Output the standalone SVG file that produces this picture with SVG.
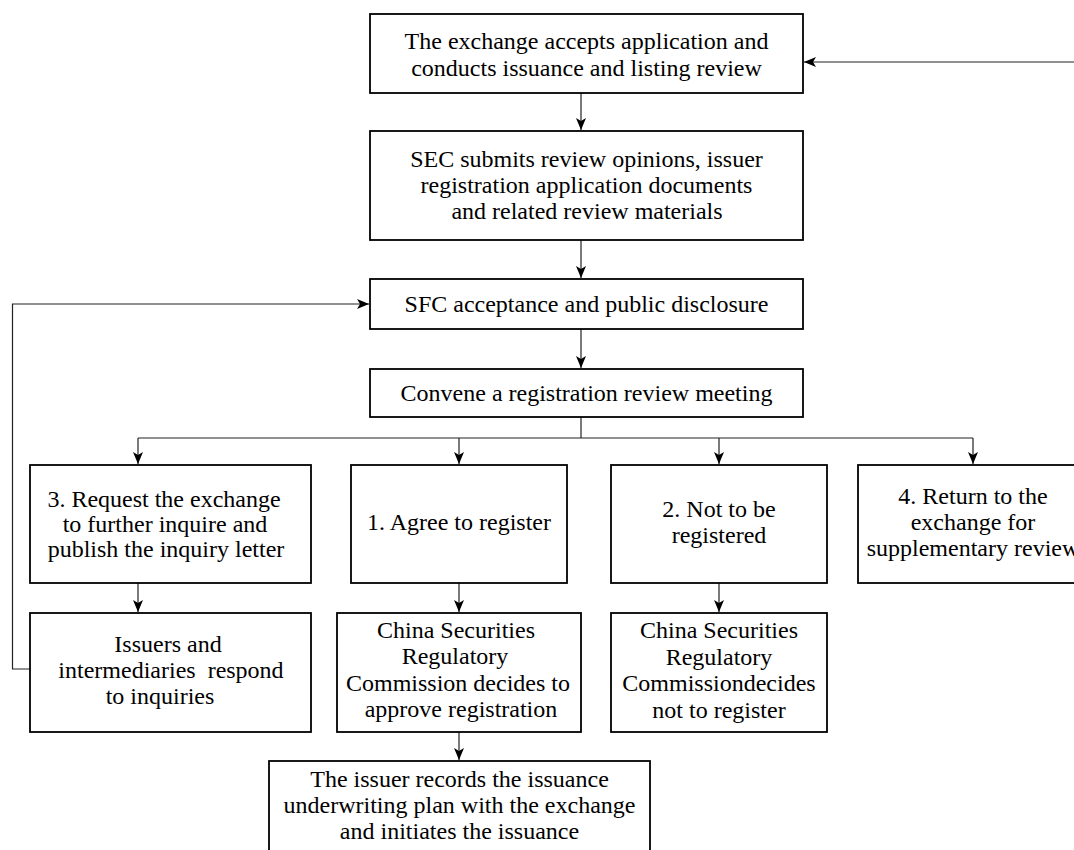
<svg xmlns="http://www.w3.org/2000/svg" width="1074" height="850" viewBox="0 0 1074 850">
<style>
.box{fill:#fff;stroke:#000;stroke-width:1.8}
.t{font-family:"Liberation Serif","Times New Roman",serif;font-size:24px;fill:#000;text-anchor:middle}
.c{fill:none;stroke:#222;stroke-width:1.2}
</style>
<defs>
<marker id="ah" markerUnits="userSpaceOnUse" viewBox="0 0 12 10" refX="12" refY="5" markerWidth="12" markerHeight="10" orient="auto">
<path d="M0,0 L12,5 L0,10 L3,5 z" fill="#000"/>
</marker>
</defs>
<rect width="1074" height="850" fill="#fff"/>
<g id="connectors">
<path class="c" d="M1074,62 L804,62" marker-end="url(#ah)"/>
<path class="c" d="M581,93 L581,130" marker-end="url(#ah)"/>
<path class="c" d="M581,240 L581,278" marker-end="url(#ah)"/>
<path class="c" d="M581,329 L581,368" marker-end="url(#ah)"/>
<path class="c" d="M581,417 L581,438"/>
<path class="c" d="M138,438 L973,438"/>
<path class="c" d="M138,438 L138,464" marker-end="url(#ah)"/>
<path class="c" d="M459,438 L459,464" marker-end="url(#ah)"/>
<path class="c" d="M719,438 L719,464" marker-end="url(#ah)"/>
<path class="c" d="M973,438 L973,464" marker-end="url(#ah)"/>
<path class="c" d="M138,583 L138,612" marker-end="url(#ah)"/>
<path class="c" d="M459,583 L459,612" marker-end="url(#ah)"/>
<path class="c" d="M719,583 L719,612" marker-end="url(#ah)"/>
<path class="c" d="M459,732 L459,760" marker-end="url(#ah)"/>
<path class="c" d="M30,669 L12.5,669 L12.5,304 L369,304" marker-end="url(#ah)"/>
</g>
<g id="n_accept">
<rect class="box" x="370" y="14" width="433" height="79"/>
<text class="t" x="586.5" y="49">The exchange accepts application and</text>
<text class="t" x="586.5" y="76">conducts issuance and listing review</text>
</g>
<g id="n_submit">
<rect class="box" x="370" y="131" width="433" height="109"/>
<text class="t" x="586.5" y="167">SEC submits review opinions, issuer</text>
<text class="t" x="586.5" y="193">registration application documents</text>
<text class="t" x="587" y="219">and related review materials</text>
</g>
<g id="n_sfc">
<rect class="box" x="370" y="279" width="433" height="50"/>
<text class="t" x="586.5" y="312">SFC acceptance and public disclosure</text>
</g>
<g id="n_convene">
<rect class="box" x="370" y="369" width="433" height="48"/>
<text class="t" x="586.5" y="401">Convene a registration review meeting</text>
</g>
<g id="n_request">
<rect class="box" x="30" y="465" width="281" height="118"/>
<text class="t" x="164" y="507">3. Request the exchange</text>
<text class="t" x="165" y="532">to further inquire and</text>
<text class="t" x="166" y="557">publish the inquiry letter</text>
</g>
<g id="n_agree">
<rect class="box" x="351" y="465" width="216" height="118"/>
<text class="t" x="459" y="530">1. Agree to register</text>
</g>
<g id="n_not">
<rect class="box" x="611" y="465" width="216" height="118"/>
<text class="t" x="719" y="517">2. Not to be</text>
<text class="t" x="719" y="543">registered</text>
</g>
<g id="n_return">
<rect class="box" x="858" y="465" width="230" height="118"/>
<text class="t" x="973" y="504">4. Return to the</text>
<text class="t" x="973" y="530">exchange for</text>
<text class="t" x="973" y="556">supplementary review</text>
</g>
<g id="n_respond">
<rect class="box" x="30" y="613" width="281" height="119"/>
<text class="t" x="168" y="652">Issuers and</text>
<text class="t" x="171" y="678" xml:space="preserve">intermediaries  respond</text>
<text class="t" x="160" y="704">to inquiries</text>
</g>
<g id="n_approve">
<rect class="box" x="337" y="613" width="244" height="119"/>
<text class="t" x="456" y="638">China Securities</text>
<text class="t" x="455" y="664">Regulatory</text>
<text class="t" x="458" y="691">Commission decides to</text>
<text class="t" x="461" y="717">approve registration</text>
</g>
<g id="n_reject">
<rect class="box" x="611" y="613" width="216" height="119"/>
<text class="t" x="719" y="638">China Securities</text>
<text class="t" x="719" y="665">Regulatory</text>
<text class="t" x="719" y="691">Commissiondecides</text>
<text class="t" x="719" y="718">not to register</text>
</g>
<g id="n_issue">
<rect class="box" x="269" y="761" width="381" height="110"/>
<text class="t" x="459.5" y="787">The issuer records the issuance</text>
<text class="t" x="459.5" y="813">underwriting plan with the exchange</text>
<text class="t" x="459.5" y="839">and initiates the issuance</text>
</g>
</svg>
